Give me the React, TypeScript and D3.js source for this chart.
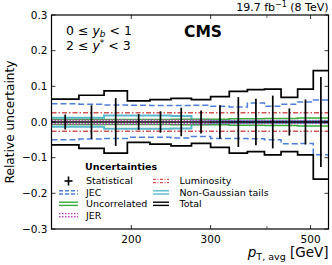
import React from 'react';
import * as d3 from 'd3';

const edges = [133, 153, 174, 196, 220, 245, 272, 300, 330, 362, 395, 430, 468, 507, 548];
const statUnc = [0.021, 0.047, 0.067, 0.022, 0.030, 0.040, 0.032, 0.047, 0.070, 0.065, 0.074, 0.038, 0.063, 0.126];
const jecUp = [0.051, 0.050, 0.048, 0.047, 0.046, 0.046, 0.047, 0.044, 0.042, 0.053, 0.044, 0.050, 0.056, 0.062];
const jecDown = [-0.050, -0.048, -0.046, -0.043, -0.043, -0.045, -0.041, -0.046, -0.046, -0.047, -0.050, -0.061, -0.060, -0.092];
const uncorrUnc = [0.007, 0.007, 0.007, 0.007, 0.007, 0.008, 0.008, 0.008, 0.009, 0.009, 0.010, 0.010, 0.011, 0.011];
const jerUnc = [0.005, 0.005, 0.005, 0.005, 0.005, 0.005, 0.005, 0.004, 0.004, 0.004, 0.004, 0.004, 0.004, 0.004];
const lumiUnc = [0.026, 0.026, 0.026, 0.026, 0.026, 0.026, 0.026, 0.026, 0.026, 0.026, 0.026, 0.026, 0.026, 0.026];
const ngtUp = [0.012, 0.012, 0.018, 0.018, 0.018, 0.017, 0.006, 0.004, 0.003, 0.003, 0.003, 0.003, 0.003, 0.003];
const ngtDown = [-0.013, -0.013, -0.019, -0.019, -0.019, -0.018, -0.006, -0.004, -0.003, -0.003, -0.003, -0.003, -0.003, -0.003];
const totalUp = [0.064, 0.075, 0.087, 0.059, 0.063, 0.066, 0.063, 0.071, 0.086, 0.091, 0.092, 0.069, 0.092, 0.144];
const totalDown = [-0.064, -0.074, -0.087, -0.057, -0.062, -0.067, -0.060, -0.071, -0.087, -0.083, -0.092, -0.083, -0.092, -0.160];

const yTicks = [-0.3, -0.2, -0.1, 0.0, 0.1, 0.2, 0.3];
const xTicksLabeled = [200, 300, 500];
const xTicksMinor = [400];

const W = 332, H = 265;
const L = 51.5, R = 328.5, T = 15, B = 229;

const COL = {
  jec: '#4f7fd6',
  lumi: '#d05555',
  uncorr: '#3aaa3a',
  jer: '#b844b8',
  ngt: '#5bb8cc',
  total: '#000',
};

const fmtY = (v: number) => (v < 0 ? '\u2212' : '') + Math.abs(v).toFixed(1);

export default function App() {
  const x = d3.scaleLog().domain([edges[0], edges[edges.length - 1]]).range([L, R]);
  const y = d3.scaleLinear().domain([-0.3, 0.3]).range([B, T]);

  const step = (vals: number[]) => {
    const pts: [number, number][] = vals.map((v, i) => [edges[i], v]);
    pts.push([edges[edges.length - 1], vals[vals.length - 1]]);
    return d3.line<[number, number]>().x(d => x(d[0])).y(d => y(d[1])).curve(d3.curveStepAfter)(pts) || '';
  };
  const neg = (a: number[]) => a.map(v => -v);
  const centers = statUnc.map((_, i) => Math.sqrt(edges[i] * edges[i + 1]));

  const font = 'DejaVu Sans, sans-serif';

  const series: { d: string; color: string; width: number; dash?: string }[] = [
    { d: step(lumiUnc), color: COL.lumi, width: 1.5, dash: '5,2,1.5,2' },
    { d: step(neg(lumiUnc)), color: COL.lumi, width: 1.5, dash: '5,2,1.5,2' },
    { d: step(ngtUp), color: COL.ngt, width: 2 },
    { d: step(ngtDown), color: COL.ngt, width: 2 },
    { d: step(uncorrUnc), color: COL.uncorr, width: 1.5 },
    { d: step(neg(uncorrUnc)), color: COL.uncorr, width: 1.5 },
    { d: step(jerUnc), color: COL.jer, width: 1.8, dash: '1.5,1.5' },
    { d: step(neg(jerUnc)), color: COL.jer, width: 1.8, dash: '1.5,1.5' },
    { d: step(jecUp), color: COL.jec, width: 1.5, dash: '6,3' },
    { d: step(jecDown), color: COL.jec, width: 1.5, dash: '6,3' },
    { d: step(totalUp), color: COL.total, width: 1.7 },
    { d: step(totalDown), color: COL.total, width: 1.7 },
  ];

  const legendLeft = [
    { label: 'Statistical', type: 'stat' },
    { label: 'JEC', color: COL.jec, dash: '4,2' },
    { label: 'Uncorrelated', color: COL.uncorr },
    { label: 'JER', color: COL.jer, dash: '1.5,1.5' },
  ];
  const legendRight = [
    { label: 'Luminosity', color: COL.lumi, dash: '3,1.5,1,1.5' },
    { label: 'Non-Gaussian tails', color: COL.ngt },
    { label: 'Total', color: COL.total },
  ];

  const renderSym = (item: any, sx: number, sy: number, len: number) => {
    if (item.type === 'stat') {
      const cx = sx + len / 2;
      return (
        <g>
          <line x1={cx - 4} x2={cx + 4} y1={sy} y2={sy} stroke="#000" strokeWidth={1.6} />
          <line x1={cx} x2={cx} y1={sy - 4.5} y2={sy + 4.5} stroke="#000" strokeWidth={1.6} />
        </g>
      );
    }
    return (
      <g>
        {[-1.6, 1.6].map((o, k) => (
          <line key={k} x1={sx} x2={sx + len} y1={sy + o} y2={sy + o} stroke={item.color} strokeWidth={1.4} strokeDasharray={item.dash} />
        ))}
      </g>
    );
  };

  return (
    <svg width={W} height={H} style={{ position: 'absolute', left: 0, top: 0, background: '#fff' }} fontFamily={font}>
      <rect x={0} y={0} width={W} height={H} fill="#fff" />
      <g fill="none">
        {series.map((s, i) => (
          <path key={i} d={s.d} stroke={s.color} strokeWidth={s.width} strokeDasharray={s.dash} />
        ))}
      </g>
      <line x1={L} x2={R} y1={y(0)} y2={y(0)} stroke="#000" strokeWidth={1.6} />
      {centers.map((c, i) => (
        <line key={i} x1={x(c)} x2={x(c)} y1={y(statUnc[i])} y2={y(-statUnc[i])} stroke="#000" strokeWidth={1.7} />
      ))}
      <rect x={L} y={T} width={R - L} height={B - T} fill="none" stroke="#000" strokeWidth={1.2} />
      {yTicks.map((v, i) => (
        <g key={i}>
          <line x1={L} x2={L + 4} y1={y(v)} y2={y(v)} stroke="#000" strokeWidth={0.8} />
          <line x1={R} x2={R - 4} y1={y(v)} y2={y(v)} stroke="#000" strokeWidth={0.8} />
          <text x={L - 4} y={y(v)} dy="0.35em" textAnchor="end" fontSize={10.5}>{fmtY(v)}</text>
        </g>
      ))}
      {xTicksLabeled.map((v, i) => (
        <g key={i}>
          <line x1={x(v)} x2={x(v)} y1={B} y2={B - 4} stroke="#000" strokeWidth={0.8} />
          <line x1={x(v)} x2={x(v)} y1={T} y2={T + 4} stroke="#000" strokeWidth={0.8} />
          <text x={x(v)} y={B + 14} textAnchor="middle" fontSize={10.5}>{v}</text>
        </g>
      ))}
      {xTicksMinor.map((v, i) => (
        <g key={i}>
          <line x1={x(v)} x2={x(v)} y1={B} y2={B - 3} stroke="#000" strokeWidth={0.6} />
          <line x1={x(v)} x2={x(v)} y1={T} y2={T + 3} stroke="#000" strokeWidth={0.6} />
        </g>
      ))}
      <text transform={`translate(14,${(T + B) / 2}) rotate(-90)`} textAnchor="middle" fontSize={12.2}>Relative uncertainty</text>
      <text x={R} y={257} textAnchor="end" fontSize={13.5}>
        <tspan fontStyle="italic">p</tspan>
        <tspan fontSize={9.5} dy={2.5}>T, avg</tspan>
        <tspan dy={-2.5}> [GeV]</tspan>
      </text>
      <text x={R} y={11} textAnchor="end" fontSize={11}>
        19.7 fb<tspan fontSize={8} dy={-4}>{'\u22121'}</tspan><tspan dy={4}> (8 TeV)</tspan>
      </text>
      <text x={184} y={37} fontSize={15.5} fontWeight="bold">CMS</text>
      <text x={66} y={35} fontSize={12.5}>
        0 ≤ <tspan fontStyle="italic">y</tspan><tspan fontSize={9} fontStyle="italic" dy={2}>b</tspan><tspan dy={-2}> &lt; 1</tspan>
      </text>
      <text x={66} y={50} fontSize={12.5}>
        2 ≤ <tspan fontStyle="italic">y</tspan><tspan fontSize={9} dy={-4.5}>*</tspan><tspan dy={4.5}> &lt; 3</tspan>
      </text>
      <text x={85} y={170} fontSize={9.5} fontWeight="bold">Uncertainties</text>
      {legendLeft.map((it, i) => (
        <g key={i}>
          {renderSym(it, 59, 181 + i * 11.4, 19)}
          <text x={86} y={181 + i * 11.4} dy="0.35em" fontSize={9.5}>{it.label}</text>
        </g>
      ))}
      {legendRight.map((it, i) => (
        <g key={i}>
          {renderSym(it, 153, 181 + i * 11.4, 16)}
          <text x={179.5} y={181 + i * 11.4} dy="0.35em" fontSize={9.5}>{it.label}</text>
        </g>
      ))}
    </svg>
  );
}
